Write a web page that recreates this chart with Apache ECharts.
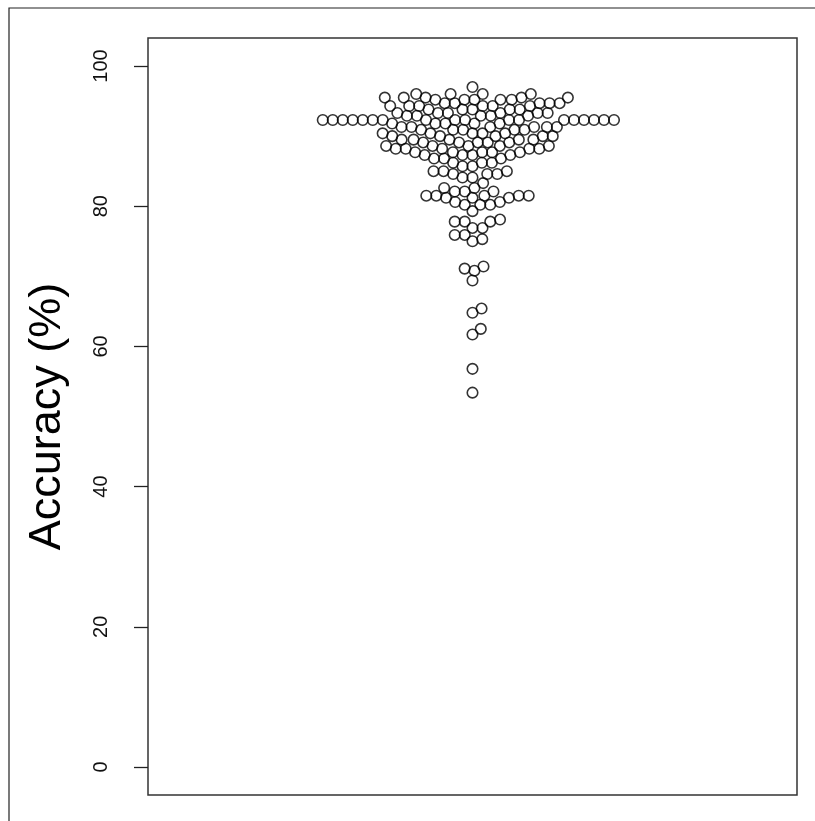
<!DOCTYPE html>
<html>
<head>
<meta charset="utf-8">
<script src="https://cdn.jsdelivr.net/npm/echarts@6/dist/echarts.min.js"></script>
<style>
  html, body { margin: 0; padding: 0; background: #fff; }
  #chart { width: 815px; height: 821px; }
</style>
</head>
<body>
<div id="chart"></div>
<script>
// accuracy of each run (%)
var accuracy = [
  53.4, 56.8, 61.7, 62.5, 64.8, 65.4, 69.4, 70.8, 71.1, 71.4,
  75.0, 75.3, 75.9, 75.9, 76.9, 76.9, 77.8, 77.8, 77.8, 78.1,
  79.3, 80.2, 80.2, 80.2, 80.6, 80.6, 81.2, 81.2, 81.2,
  81.5, 81.5, 81.5, 81.5, 81.5, 82.1, 82.1, 82.1, 82.6, 82.6, 83.3,
  84.1, 84.1, 84.6, 84.6, 84.6, 85.0, 85.0, 85.0,
  85.7, 85.7, 86.2, 86.2, 86.2, 86.8, 86.8, 86.8,
  87.3, 87.3, 87.3, 87.3,
  87.7, 87.7, 87.7, 87.7, 87.7,
  88.2, 88.2, 88.2, 88.2, 88.2,
  88.6, 88.6, 88.6, 88.6, 88.6,
  89.1, 89.1, 89.1, 89.1, 89.1,
  89.5, 89.5, 89.5, 89.5, 89.5,
  90.0, 90.0, 90.0, 90.0, 90.0,
  90.4, 90.4, 90.4, 90.4, 90.4,
  90.9, 90.9, 90.9, 90.9, 90.9,
  91.3, 91.3, 91.3, 91.3, 91.3, 91.3,
  91.8, 91.8, 91.8, 91.8, 91.8,
  92.3, 92.3, 92.3, 92.3, 92.3, 92.3, 92.3, 92.3, 92.3,
  92.3, 92.3, 92.3, 92.3, 92.3, 92.3, 92.3, 92.3, 92.3,
  92.9, 92.9, 92.9, 92.9, 92.9,
  93.3, 93.3, 93.3, 93.3, 93.3, 93.3,
  93.8, 93.8, 93.8, 93.8, 93.8,
  94.3, 94.3, 94.3, 94.3, 94.3, 94.3,
  94.7, 94.7, 94.7, 94.7, 94.7,
  95.2, 95.2, 95.2, 95.2, 95.2,
  95.5, 95.5, 95.5, 95.5, 95.5,
  96.0, 96.0, 96.0, 96.0,
  97.0
];
var yTicks = [0, 20, 40, 60, 80, 100];
var yTitle = 'Accuracy (%)';

var chart = echarts.init(document.getElementById('chart'));
var font = '"Liberation Sans", Arial, sans-serif';
var dotSize = 10; // spacing between point centres, px

chart.setOption({
  animation: false,
  backgroundColor: '#fff',
  graphic: [{
    type: 'rect',
    shape: { x: 9, y: 8, width: 820, height: 830 },
    style: { fill: 'none', stroke: '#222', lineWidth: 1.2 },
    silent: true
  }],
  grid: {
    left: 148, right: 18, top: 38, bottom: 26,
    show: true, borderColor: '#333', borderWidth: 1.5,
    backgroundColor: 'transparent'
  },
  xAxis: {
    type: 'value', min: -1, max: 1,
    show: false
  },
  yAxis: {
    type: 'value', min: -4, max: 104,
    name: yTitle, nameLocation: 'middle', nameGap: 78, nameRotate: 90,
    nameTextStyle: { fontFamily: font, fontSize: 45, color: '#000' },
    axisLine: { show: false, onZero: false },
    splitLine: { show: false },
    axisTick: {
      show: true, length: 14, customValues: yTicks,
      lineStyle: { color: '#222', width: 1.3 }
    },
    axisLabel: {
      customValues: yTicks, rotate: 90, margin: 37,
      fontFamily: font, fontSize: 20, color: '#111'
    }
  },
  series: []
});

// beeswarm ("swarm" layout, ascending priority) in pixel space
function swarm(values) {
  var order = values.map(function (v, i) { return i; });
  order.sort(function (a, b) { return values[a] - values[b] || a - b; });
  var placed = [];
  var offs = new Array(values.length);
  order.forEach(function (i) {
    var py = chart.convertToPixel({ yAxisIndex: 0 }, values[i]);
    var near = placed.filter(function (p) { return Math.abs(p.y - py) < dotSize; });
    var cands = [0];
    near.forEach(function (p) {
      var dx = Math.sqrt(dotSize * dotSize - (p.y - py) * (p.y - py));
      cands.push(p.x + dx, p.x - dx);
    });
    var ok = cands.filter(function (c) {
      return near.every(function (p) {
        return (c - p.x) * (c - p.x) + (p.y - py) * (p.y - py) >= dotSize * dotSize - 1e-6;
      });
    });
    var best = ok[0];
    ok.forEach(function (c) { if (Math.abs(c) < Math.abs(best)) best = c; });
    placed.push({ x: best, y: py });
    offs[i] = best;
  });
  return offs;
}

var pxPerUnit = chart.convertToPixel({ xAxisIndex: 0 }, 1) - chart.convertToPixel({ xAxisIndex: 0 }, 0);
var offs = swarm(accuracy);
var points = accuracy.map(function (v, i) { return [offs[i] / pxPerUnit, v]; });

chart.setOption({
  series: [{
    type: 'scatter',
    data: points,
    symbol: 'circle',
    symbolSize: 10.5,
    itemStyle: { color: 'rgba(0,0,0,0)', borderColor: '#000', borderWidth: 1.6 },
    silent: true
  }]
});
</script>
</body>
</html>
